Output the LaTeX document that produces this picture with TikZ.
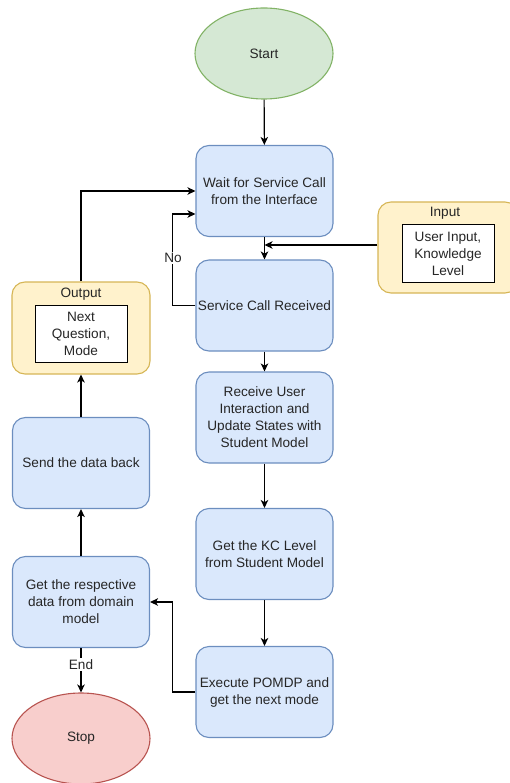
\documentclass[tikz,border=0pt]{standalone}
\usepackage{fontspec}
\setmainfont{Liberation Sans}
\usetikzlibrary{arrows.meta,shapes.geometric}
\definecolor{bfill}{HTML}{DAE8FC}
\definecolor{bdraw}{HTML}{6C8EBF}
\definecolor{gfill}{HTML}{D5E8D4}
\definecolor{gdraw}{HTML}{82B366}
\definecolor{rfill}{HTML}{F8CECC}
\definecolor{rdraw}{HTML}{B85450}
\definecolor{yfill}{HTML}{FFF2CC}
\definecolor{ydraw}{HTML}{D6B656}
\definecolor{txt}{HTML}{262626}
\begin{document}
\begin{tikzpicture}[x=1pt,y=-1pt,
  every node/.style={font=\fontsize{13.6}{17}\selectfont, text=txt},
  proc/.style={draw=bdraw, fill=bfill, rounded corners=13pt, minimum width=137pt, minimum height=91pt, align=center, line width=1.1pt, inner sep=2pt},
  term/.style={ellipse, minimum width=138pt, minimum height=91pt, inner sep=0pt, line width=1.1pt},
  cont/.style={draw=ydraw, fill=yfill, rounded corners=13pt, line width=1.1pt, inner sep=0pt},
  inbox/.style={draw=black, fill=white, line width=1pt, align=center, inner sep=0pt, minimum width=92pt, minimum height=57pt},
  arr/.style={draw=black, line width=1.1pt, -{Stealth[length=8pt,width=7.5pt,inset=2.2pt]}},
  lbl/.style={fill=white, inner sep=1.5pt}
]
\useasboundingbox (0,0) rectangle (509,783);

% terminals
\node[term, draw=gdraw, fill=gfill] (start) at (264,53.5) {Start};
\node[term, draw=rdraw, fill=rfill] (stop) at (81,738.5) {Stop};

% right column
\node[proc] (wait) at (264.5,191) {Wait for Service Call\\from the Interface};
\node[proc] (scr) at (264.5,305.5) {Service Call Received};
\node[proc] (recv) at (264.5,417.5) {Receive User\\Interaction and\\Update States with\\Student Model};
\node[proc] (kc) at (264.5,554) {Get the KC Level\\from Student Model};
\node[proc] (exec) at (264.5,692) {Execute POMDP and\\get the next mode};

% left column
\node[proc] (getdata) at (81,602) {Get the respective\\data from domain\\model};
\node[proc] (send) at (81,463) {Send the data back};

% output container
\node[cont, minimum width=138pt, minimum height=92pt] (output) at (81,328) {};
\node (outtitle) at (81,294) {Output};
\node[inbox] (outbox) at (81,333.5) {Next\\Question,\\Mode};

% input container
\node[cont, minimum width=140pt, minimum height=91pt] (input) at (448,247.5) {};
\node (intitle) at (445,213) {Input};
\node[inbox] (inbox) at (448,253.5) {User Input,\\Knowledge\\Level};

\coordinate (join) at (264.5,245);

% connectors
\draw[arr] (start) -- (wait);
\draw[arr] (wait) -- (scr);
\draw[arr] (input.west |- join) -- (join);
\draw[arr] (scr.west) -- ++(-23,0) |- ([yshift=-23pt]wait.west);
\node[lbl] (no) at (173,258) {No};
\draw[arr] (scr) -- (recv);
\draw[arr] (recv) -- (kc);
\draw[arr] (kc) -- (exec);
\draw[arr] (exec.west) -- ++(-23,0) |- (getdata.east);
\draw[arr] (getdata) -- node[lbl, pos=0.38] (endlbl) {End} (stop);
\draw[arr] (getdata) -- (send);
\draw[arr] (send) -- (output);
\draw[arr] (output.north) |- (wait.west);
\end{tikzpicture}
\end{document}
